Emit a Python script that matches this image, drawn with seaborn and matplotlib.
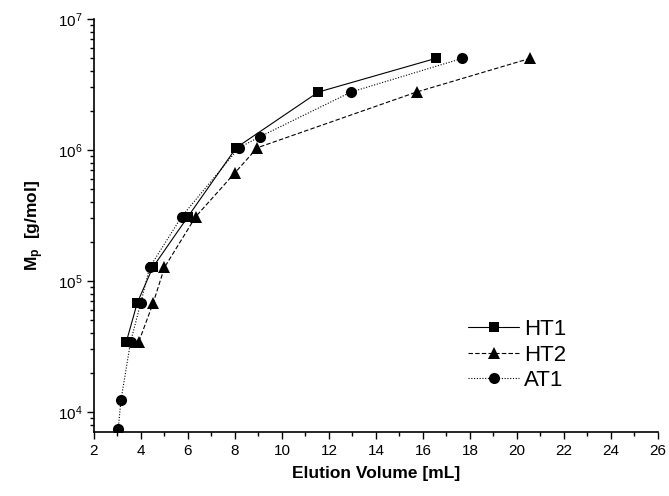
import matplotlib
matplotlib.use('Agg')
import matplotlib.pyplot as plt
import seaborn as sns
import pandas as pd
from matplotlib.ticker import LogLocator, MultipleLocator, NullFormatter
from matplotlib.lines import Line2D

# Elution volume [mL] and peak molar mass [g/mol]
ht1_vol = [3.38, 3.84, 4.5, 6.0, 8.05, 11.55, 16.54]
ht1_mp = [3.45e4, 6.8e4, 1.27e5, 3.1e5, 1.04e6, 2.77e6, 5.0e6]

ht2_vol = [3.91, 4.52, 5.0, 6.33, 8.0, 8.95, 15.73, 20.55]
ht2_mp = [3.45e4, 6.8e4, 1.27e5, 3.1e5, 6.7e5, 1.04e6, 2.77e6, 5.0e6]

at1_vol = [3.03, 3.15, 3.56, 3.99, 4.37, 5.73, 8.17, 9.05, 12.94, 17.66]
at1_mp = [7.4e3, 1.24e4, 3.45e4, 6.8e4, 1.27e5, 3.1e5, 1.04e6, 1.26e6, 2.77e6, 5.0e6]

names = ['HT1', 'HT2', 'AT1']

df = pd.concat([
    pd.DataFrame({'vol': ht1_vol, 'mp': ht1_mp, 'sample': 'HT1'}),
    pd.DataFrame({'vol': ht2_vol, 'mp': ht2_mp, 'sample': 'HT2'}),
    pd.DataFrame({'vol': at1_vol, 'mp': at1_mp, 'sample': 'AT1'}),
])

sns.set_style('ticks')
plt.rcParams['font.family'] = ['Liberation Sans', 'DejaVu Sans']
plt.rcParams['text.color'] = 'black'
plt.rcParams['axes.labelcolor'] = 'black'
plt.rcParams['mathtext.fontset'] = 'custom'
plt.rcParams['mathtext.rm'] = 'Liberation Sans'
plt.rcParams['mathtext.it'] = 'Liberation Sans:italic'
plt.rcParams['mathtext.bf'] = 'Liberation Sans:bold'

markers = {'HT1': 's', 'HT2': '^', 'AT1': 'o'}
dashes = {'HT1': '', 'HT2': (4, 2), 'AT1': (1, 1.5)}
msize = {'HT1': 7.5, 'HT2': 9, 'AT1': 8}

fig = plt.figure(figsize=(6.69, 4.96), dpi=100)
ax = fig.add_axes([0.1405, 0.129, 0.843, 0.8327])

for n in names:
    sns.lineplot(data=df[df['sample'] == n], x='vol', y='mp', marker=markers[n],
                 dashes=False, color='black', linewidth=0.8, markersize=msize[n],
                 markeredgewidth=0, sort=False, estimator=None, ax=ax,
                 linestyle='-' if n == 'HT1' else (0, dashes[n]))

ax.set_yscale('log')
ax.set_xlim(2, 26)
ax.set_ylim(10**3.847, 1e7)
ax.xaxis.set_major_locator(MultipleLocator(2))
ax.xaxis.set_minor_locator(MultipleLocator(1))
ax.yaxis.set_major_locator(LogLocator(base=10, numticks=10))
ax.yaxis.set_minor_locator(LogLocator(base=10, subs=range(2, 10), numticks=10))
ax.yaxis.set_minor_formatter(NullFormatter())

ax.tick_params(axis='both', which='major', direction='out', length=5, width=1,
               labelsize=11, color='black', labelcolor='black')
ax.tick_params(axis='both', which='minor', direction='out', length=3, width=1,
               color='black')
sns.despine(ax=ax)
for s in ['left', 'bottom']:
    ax.spines[s].set_linewidth(1.2)
    ax.spines[s].set_color('black')

ax.set_xlabel('Elution Volume [mL]', fontsize=12.5, fontweight='bold', labelpad=6)
ax.set_ylabel(r'M$_\mathregular{p}$  [g/mol]', fontsize=12.5, fontweight='bold', labelpad=8)

handles = [Line2D([], [], color='black', linewidth=0.8, marker=markers[n],
                  markersize=msize[n], markeredgewidth=0,
                  linestyle='-' if n == 'HT1' else (0, dashes[n]))
           for n in names]
ax.legend(handles, names, loc='upper left', bbox_to_anchor=(0.648, 0.295),
          frameon=False, fontsize=16, handlelength=2.3, handletextpad=0.2,
          labelspacing=0.2, borderaxespad=0)

fig.savefig('out.png', dpi=100)
